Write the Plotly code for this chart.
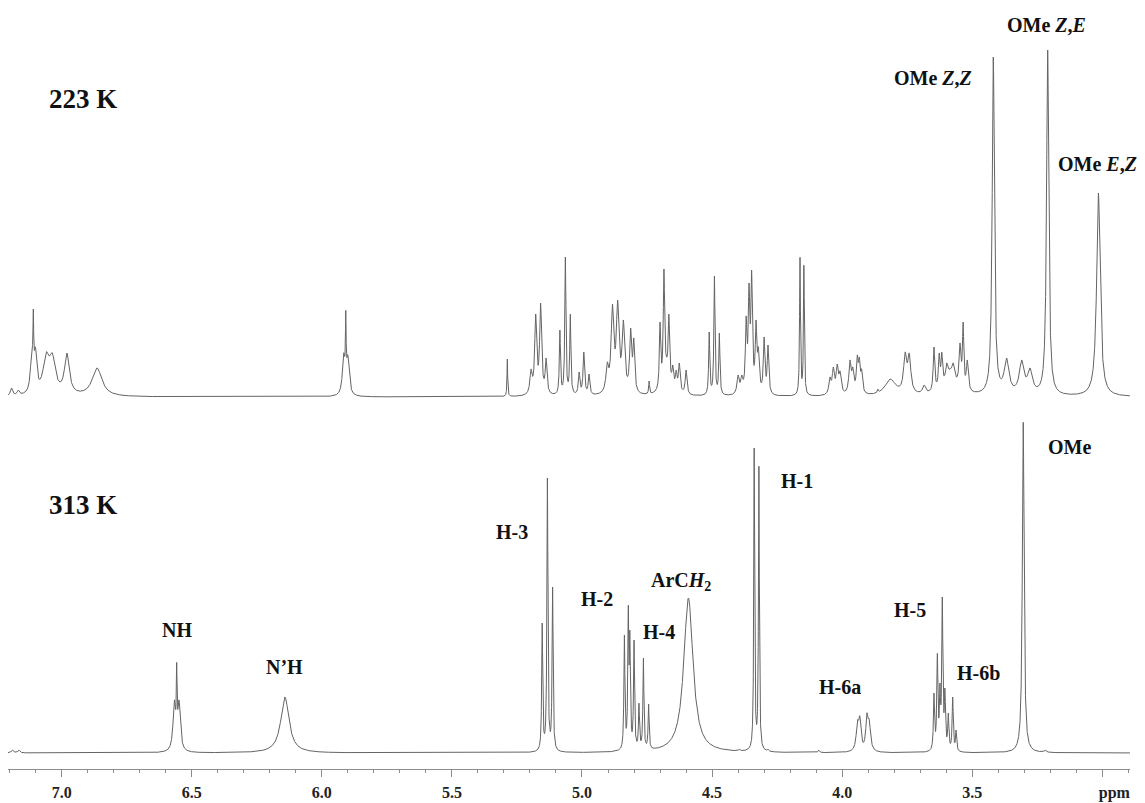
import numpy as np
import plotly.graph_objects as go

# ---------------------------------------------------------------------------
# 1H NMR peak lists: chemical shift (ppm), observed peak height, line width (FWHM, ppm)
# ---------------------------------------------------------------------------

# 223 K spectrum
ppm_223 = [7.193, 7.167,
           7.115, 7.109, 7.101, 7.060, 7.036, 6.980, 6.864,
           5.916, 5.908, 5.900,
           5.287,
           5.196, 5.178, 5.159, 5.138,
           5.085, 5.064, 5.045,
           5.011, 4.993, 4.973,
           4.903, 4.883, 4.863, 4.841, 4.813, 4.801,
           4.742,
           4.700, 4.685, 4.675, 4.666, 4.651, 4.638, 4.626, 4.600,
           4.511, 4.491, 4.472,
           4.400, 4.386, 4.369, 4.358, 4.348, 4.331, 4.322, 4.300, 4.285,
           4.162, 4.147,
           4.047, 4.034, 4.019, 4.008,
           3.970, 3.959, 3.942, 3.934, 3.925,
           3.863, 3.815, 3.758, 3.742, 3.685,
           3.647, 3.627, 3.617, 3.598, 3.585, 3.573, 3.547, 3.535, 3.519,
           3.419, 3.368, 3.310, 3.278, 3.210, 3.015]
height_223 = [9, 7,
              49, 88, 50, 45, 44, 44, 29,
              44, 87, 42,
              38,
              28, 83, 94, 39,
              67, 140, 83,
              25, 45, 23,
              35, 93, 97, 77, 69, 59,
              16,
              75, 128, 40, 83, 32, 27, 34, 27,
              65, 121, 64,
              22, 22, 81, 114, 127, 77, 50, 60, 52,
              140, 132,
              20, 30, 33, 26,
              37, 30, 42, 40, 28,
              8, 18, 45, 44, 12,
              50, 44, 45, 34, 28, 34, 54, 75, 37,
              340, 39, 37, 29, 347, 204]
width_223 = [0.010, 0.010,
             0.012, 0.003, 0.012, 0.028, 0.028, 0.022, 0.045,
             0.012, 0.003, 0.012,
             0.003,
             0.010, 0.009, 0.009, 0.008,
             0.005, 0.005, 0.005,
             0.007, 0.007, 0.007,
             0.012, 0.012, 0.012, 0.012, 0.009, 0.008,
             0.004,
             0.006, 0.006, 0.030, 0.006, 0.008, 0.008, 0.008, 0.008,
             0.005, 0.005, 0.005,
             0.010, 0.010, 0.007, 0.007, 0.007, 0.007, 0.008, 0.007, 0.007,
             0.004, 0.004,
             0.010, 0.010, 0.010, 0.010,
             0.010, 0.010, 0.008, 0.008, 0.008,
             0.004, 0.050, 0.014, 0.014, 0.014,
             0.007, 0.007, 0.007, 0.009, 0.050, 0.011, 0.009, 0.006, 0.009,
             0.010, 0.022, 0.022, 0.022, 0.010, 0.016]

# 313 K spectrum
ppm_313 = [7.190, 7.165,
           6.567, 6.558, 6.549,
           6.142,
           5.153, 5.133, 5.113,
           4.837, 4.822, 4.816, 4.800,
           4.781, 4.764, 4.744,
           4.595, 4.587,
           4.395, 4.338, 4.320, 4.285,
           4.090,
           3.941, 3.932, 3.905, 3.896,
           3.647, 3.634, 3.624, 3.615, 3.605, 3.592, 3.575, 3.562,
           3.304, 3.220]
height_313 = [3, 3,
              53, 91, 53,
              56,
              130, 275, 166,
              118, 148, 123, 113,
              50, 95, 49,
              150, 150,
              4, 306, 287, 4,
              3,
              33, 37, 40, 34,
              60, 100, 70, 156, 65, 40, 56, 23,
              331, 3]
width_313 = [0.010, 0.010,
             0.012, 0.003, 0.012,
             0.038,
             0.0045, 0.0045, 0.0045,
             0.0045, 0.0045, 0.0045, 0.0045,
             0.0045, 0.0045, 0.0045,
             0.040, 0.040,
             0.005, 0.004, 0.004, 0.005,
             0.006,
             0.012, 0.010, 0.010, 0.012,
             0.005, 0.005, 0.005, 0.005, 0.005, 0.005, 0.005, 0.005,
             0.008, 0.010]

# tick labels of the shift axis (the unit sits at the last major tick)
tick_ppm = [7.0, 6.5, 6.0, 5.5, 5.0, 4.5, 4.0, 3.5, 3.0]
tick_text = ["7.0", "6.5", "6.0", "5.5", "5.0", "4.5", "4.0", "3.5",
             "\u00a0" * 6 + "ppm"]

# signal assignments: (text, ppm, height above the trace baseline)
labels_313 = [("NH", 6.555, 123), ("N\u2019H", 6.142, 86),
              ("H-3", 5.270, 221), ("H-2", 4.942, 154), ("H-4", 4.704, 121),
              ("ArC<i>H</i><sub>2</sub>", 4.619, 172), ("H-1", 4.174, 272),
              ("H-6a", 4.008, 66), ("H-5", 3.739, 143), ("H-6b", 3.476, 80),
              ("OMe", 3.126, 306)]
labels_223 = [("OMe <i>Z</i>,<i>Z</i>", 3.649, 319),
              ("OMe <i>Z</i>,<i>E</i>", 3.2145, 372),
              ("OMe <i>E</i>,<i>Z</i>", 3.0185, 233)]
temperatures = [("223 K", 298), ("313 K", 248)]

# ---------------------------------------------------------------------------
X_LEFT, X_RIGHT = 7.2064, 2.8935
OFFSET_223 = 356          # vertical stacking of the low-temperature trace
grid = np.linspace(X_LEFT, X_RIGHT, 14000)


def lorentz(x, x0, w):
    return 1.0 / (1.0 + (2.0 * (x - x0) / w) ** 2)


def spectrum(pos, heights, widths):
    pos = np.asarray(pos, float)
    h = np.asarray(heights, float)
    w = np.asarray(widths, float)
    # solve line amplitudes so the summed curve reaches each observed height
    m = lorentz(pos[:, None], pos[None, :], w[None, :])
    amp = h.copy()
    for _ in range(4000):
        amp *= h / (m @ amp)
    return (lorentz(grid[:, None], pos[None, :], w[None, :]) * amp).sum(axis=1)


y_313 = spectrum(ppm_313, height_313, width_313)
y_223 = spectrum(ppm_223, height_223, width_223) + OFFSET_223

LINE = "#646464"
FONT = "Liberation Serif"

fig = go.Figure()
fig.add_trace(go.Scatter(x=grid, y=y_223, mode="lines",
                         line=dict(color=LINE, width=1), hoverinfo="skip"))
fig.add_trace(go.Scatter(x=grid, y=y_313, mode="lines",
                         line=dict(color=LINE, width=1), hoverinfo="skip"))

label_font = dict(family=FONT, size=20, color="#111", weight="bold")
annotations = []
for text, x, y in labels_313:
    annotations.append(dict(x=x, y=y, xref="x", yref="y", text=text, showarrow=False,
                            xanchor="center", yanchor="middle", font=label_font))
for text, x, y in labels_223:
    annotations.append(dict(x=x, y=OFFSET_223 + y, xref="x", yref="y", text=text,
                            showarrow=False, xanchor="center", yanchor="middle",
                            font=label_font))
for (text, y), base in zip(temperatures, [OFFSET_223, 0]):
    annotations.append(dict(x=7.0565, y=base + y, xref="x", yref="y", text=text,
                            showarrow=False, xanchor="left", yanchor="middle",
                            font=dict(family=FONT, size=27, color="#111", weight="bold")))

fig.update_layout(
    width=1145, height=803,
    margin=dict(l=8, r=15, t=0, b=34),
    paper_bgcolor="white", plot_bgcolor="white",
    showlegend=False,
    annotations=annotations,
    xaxis=dict(range=[X_LEFT, X_RIGHT], showgrid=False, zeroline=False,
               showline=True, linecolor="#8c8c8c", linewidth=1,
               ticks="outside", ticklen=7, tickcolor="#8c8c8c", tickwidth=1,
               tickmode="array", tickvals=tick_ppm, ticktext=tick_text,
               tickfont=dict(family=FONT, size=16, color="#222", weight="bold"),
               ticklabelstandoff=2,
               minor=dict(tickmode="array",
                          tickvals=[round(v, 1) for v in np.arange(2.9, 7.25, 0.1)],
                          ticks="outside", ticklen=3, tickcolor="#8c8c8c", tickwidth=1)),
    yaxis=dict(visible=False, range=[-16, 753], fixedrange=True),
)

fig.write_html("out.html")
